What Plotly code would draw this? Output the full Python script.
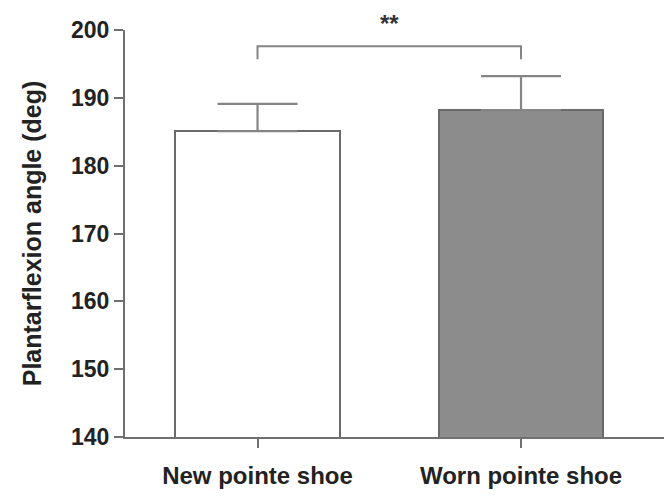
import plotly.graph_objects as go

categories = ["New pointe shoe", "Worn pointe shoe"]
means = [185.1, 188.2]
errors_up = [4.0, 5.0]
fill_colors = ["#ffffff", "#8c8c8c"]
y_ticks = [140, 150, 160, 170, 180, 190, 200]
sig_label = "**"
bracket_y = 197.6
bracket_drop = 195.7

FONT = "Liberation Sans, Arial, sans-serif"
AX = "#707070"

fig = go.Figure()
fig.add_trace(go.Bar(
    x=[0, 1], y=means,
    marker=dict(color=fill_colors, line=dict(color="#6a6a6a", width=2)),
    width=0.626,
    error_y=dict(type="data", symmetric=False, array=errors_up, arrayminus=[0, 0],
                 color="#858585", thickness=2.2, width=40),
))

fig.add_shape(type="path",
              path=f"M 0 {bracket_drop} L 0 {bracket_y} L 1 {bracket_y} L 1 {bracket_drop}",
              line=dict(color="#858585", width=2), xref="x", yref="y")
fig.add_annotation(x=0.5, y=bracket_y, yshift=23, text="<b>" + sig_label + "</b>",
                   showarrow=False, font=dict(family=FONT, size=24, color="#333"))

fig.update_layout(
    width=672, height=498,
    margin=dict(l=117, r=8, t=22, b=69),
    paper_bgcolor="white", plot_bgcolor="white",
    showlegend=False,
    bargap=0,
    font=dict(family=FONT, color="#222"),
)
fig.update_xaxes(
    range=[-0.503, 1.573],
    tickvals=[0, 1], ticktext=["<b>" + c + "</b>" for c in categories],
    tickfont=dict(family=FONT, size=24, color="#222"),
    showline=True, linecolor=AX, linewidth=2,
    ticks="outside", ticklen=9, tickcolor=AX, tickwidth=2,
    ticklabelstandoff=7,
    showgrid=False, zeroline=False,
)
fig.update_yaxes(
    range=[140, 200],
    tickvals=y_ticks, ticktext=[f"<b>{v}</b>" for v in y_ticks],
    tickfont=dict(family=FONT, size=23, color="#222"),
    showline=True, linecolor=AX, linewidth=2,
    ticks="outside", ticklen=9, tickcolor=AX, tickwidth=2,
    showgrid=False, zeroline=False,
    title=dict(text="<b>Plantarflexion angle (deg)</b>", font=dict(family=FONT, size=25, color="#222"), standoff=22),
)

fig.write_html("out.html")
